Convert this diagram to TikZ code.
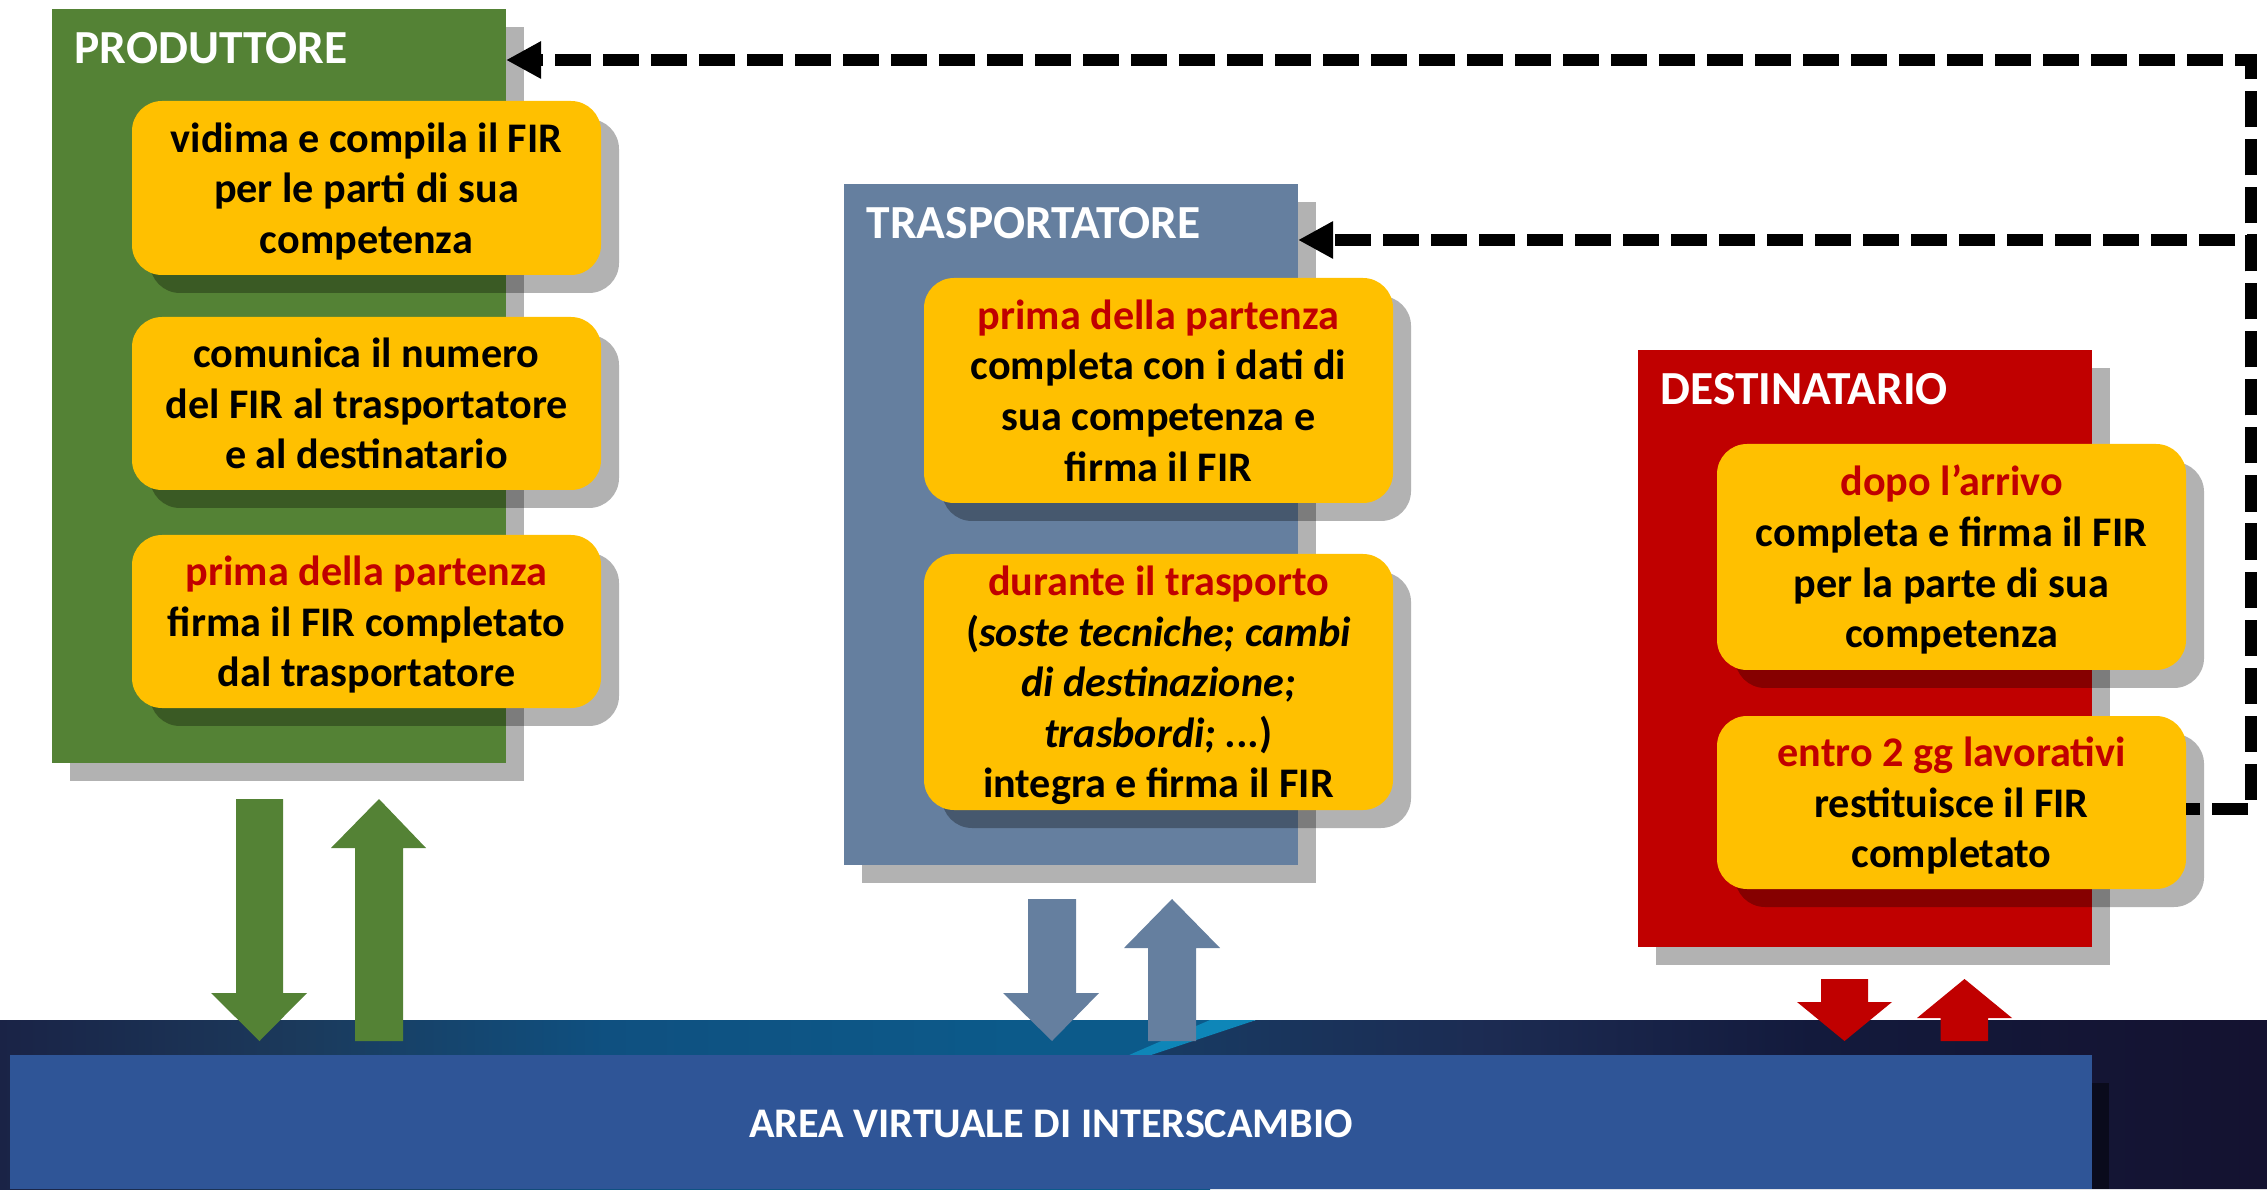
\documentclass[tikz,border=0pt]{standalone}
\usepackage{fontspec}
\setmainfont{Carlito}
\usetikzlibrary{arrows.meta, shadows}

\definecolor{prodgreen}{HTML}{548235}
\definecolor{traspblue}{HTML}{657F9F}
\definecolor{destred}{HTML}{C00000}
\definecolor{firyellow}{HTML}{FFC000}
\definecolor{areablue}{HTML}{2F5597}
\definecolor{bandA}{HTML}{1A2346}
\definecolor{bandB}{HTML}{1B3A5C}
\definecolor{bandC}{HTML}{0F5080}
\definecolor{bandD}{HTML}{0C5A8A}
\definecolor{bandE}{HTML}{173C64}
\definecolor{bandF}{HTML}{1C2B52}
\definecolor{bandG}{HTML}{131A3C}
\definecolor{bandH}{HTML}{141230}
\definecolor{stripecyan}{HTML}{0E86B8}

\pgfdeclarehorizontalshading{bandleft}{100bp}{color(0bp)=(bandA); color(25bp)=(bandA); color(37.5bp)=(bandB);
  color(50bp)=(bandC); color(67bp)=(bandD); color(75bp)=(bandD); color(100bp)=(bandD)}
\pgfdeclarehorizontalshading{bandright}{100bp}{color(0bp)=(bandE); color(25bp)=(bandE); color(41bp)=(bandF);
  color(55bp)=(bandG); color(75bp)=(bandH); color(100bp)=(bandH)}

\newcommand{\firstrut}{\rule[-2.8pt]{0pt}{14pt}}

\begin{document}
\begin{tikzpicture}[
  panel/.style={rectangle, inner sep=0pt, outer sep=0pt, minimum width=4.54cm,
    drop shadow={shadow xshift=0.18cm, shadow yshift=-0.18cm, opacity=0.3, fill=black}},
  title/.style={anchor=base west, inner sep=0pt, text=white, font=\fontsize{13.5}{16}\selectfont\bfseries},
  firbox/.style={rectangle, rounded corners=0.3cm, fill=firyellow, inner sep=0pt, outer sep=0pt,
    minimum width=4.69cm, align=center, font=\fontsize{12}{14.4}\selectfont\bfseries,
    execute at end node=\firstrut,
    drop shadow={shadow xshift=0.18cm, shadow yshift=-0.18cm, opacity=0.3, fill=black}},
  fir/.style={line width=0.12cm, line join=miter, dash pattern=on 0.36cm off 0.12cm, dash phase=0.22cm,
    -{Triangle[length=0.35cm, width=0.35cm]}}
]
\useasboundingbox (0,0) rectangle (22.67,11.89);

%bottom band
\shade[shading=bandleft] (0,0) rectangle (12.10,1.69);
\shade[shading=bandright] (11.29,1.34) -- (12.56,1.69) -- (22.67,1.69) -- (22.67,0) -- (11.29,0) -- cycle;
\fill[stripecyan] (12.10,1.69) -- (12.56,1.69) -- (11.51,1.34) -- (11.29,1.34) -- cycle;
\fill[black, opacity=0.45] (0.28,0) rectangle (21.09,1.06); %shadow
\fill[areablue] (0.10,0) rectangle (20.92,1.34);
\node[text=white, font=\fontsize{12}{14}\selectfont\bfseries] (area) at (10.51,0.65) {AREA VIRTUALE DI INTERSCAMBIO};

%block arrows
\fill[prodgreen] (2.36,3.90) -- (2.83,3.90) -- (2.83,1.96) -- (3.07,1.96) -- (2.595,1.48) -- (2.11,1.96) -- (2.36,1.96) -- cycle; %down
\fill[prodgreen] (3.55,1.48) -- (4.03,1.48) -- (4.03,3.41) -- (4.26,3.41) -- (3.79,3.90) -- (3.31,3.41) -- (3.55,3.41) -- cycle; %up
\fill[traspblue] (10.28,2.90) -- (10.76,2.90) -- (10.76,1.96) -- (10.99,1.96) -- (10.52,1.48) -- (10.03,1.96) -- (10.28,1.96) -- cycle; %down
\fill[traspblue] (11.48,1.48) -- (11.96,1.48) -- (11.96,2.41) -- (12.20,2.41) -- (11.72,2.90) -- (11.24,2.41) -- (11.48,2.41) -- cycle; %up
\fill[destred] (18.21,2.10) -- (18.68,2.10) -- (18.68,1.87) -- (18.92,1.87) -- (18.445,1.48) -- (17.97,1.87) -- (18.21,1.87) -- cycle; %down
\fill[destred] (19.405,1.48) -- (19.88,1.48) -- (19.88,1.71) -- (20.12,1.71) -- (19.645,2.10) -- (19.17,1.71) -- (19.405,1.71) -- cycle; %up

%panels
\node[panel, fill=prodgreen, minimum height=7.54cm] (prod) at (2.79,8.03) {};
\node[title] (prodT) at ([xshift=0.22cm, yshift=-0.55cm]prod.north west) {PRODUTTORE};
\node[panel, fill=traspblue, minimum height=6.81cm] (trasp) at (10.71,6.645) {};
\node[title] (traspT) at ([xshift=0.22cm, yshift=-0.55cm]trasp.north west) {TRASPORTATORE};
\node[panel, fill=destred, minimum height=5.97cm] (dest) at (18.65,5.405) {};
\node[title] (destT) at ([xshift=0.22cm, yshift=-0.55cm]dest.north west) {DESTINATARIO};

%produttore
\node[firbox, minimum height=1.74cm] (pB1) at (3.665,10.01) {\firstrut vidima e compila il FIR\\per le parti di sua\\competenza};
\node[firbox, minimum height=1.73cm] (pB2) at (3.665,7.855) {\firstrut comunica il numero\\del FIR al trasportatore\\e al destinatario};
\node[firbox, minimum height=1.73cm] (pB3) at (3.665,5.675) {\firstrut\textcolor{destred}{prima della partenza}\\firma il FIR completato\\dal trasportatore};

%trasportatore
\node[firbox, minimum height=2.25cm] (tB1) at (11.585,7.985) {\firstrut\textcolor{destred}{prima della partenza}\\completa con i dati di\\sua competenza e\\firma il FIR};
\node[firbox, minimum height=2.56cm] (tB2) at (11.585,5.07) {\firstrut\textcolor{destred}{durante il trasporto}\\(\textit{soste tecniche; cambi}\\\textit{di destinazione;}\\\textit{trasbordi; ...})\\integra e firma il FIR};

%destinatario
\node[firbox, minimum height=2.26cm] (dB1) at (19.515,6.32) {\firstrut\textcolor{destred}{dopo l’arrivo}\\completa e firma il FIR\\per la parte di sua\\competenza};
\node[firbox, minimum height=1.73cm] (dB2) at (19.515,3.865) {\firstrut\textcolor{destred}{entro 2 gg lavorativi}\\restituisce il FIR\\completato};

%return of the FIR
\coordinate (c1) at (22.51,11.29);
\coordinate (c2) at (22.51,9.49);
\draw[fir] ([yshift=-0.06cm]dB2.east) -| (c1) -- (prod.east |- c1);
\draw[fir] ([yshift=-0.06cm]dB2.east) -| (c2) -- (trasp.east |- c2);

\end{tikzpicture}
\end{document}
